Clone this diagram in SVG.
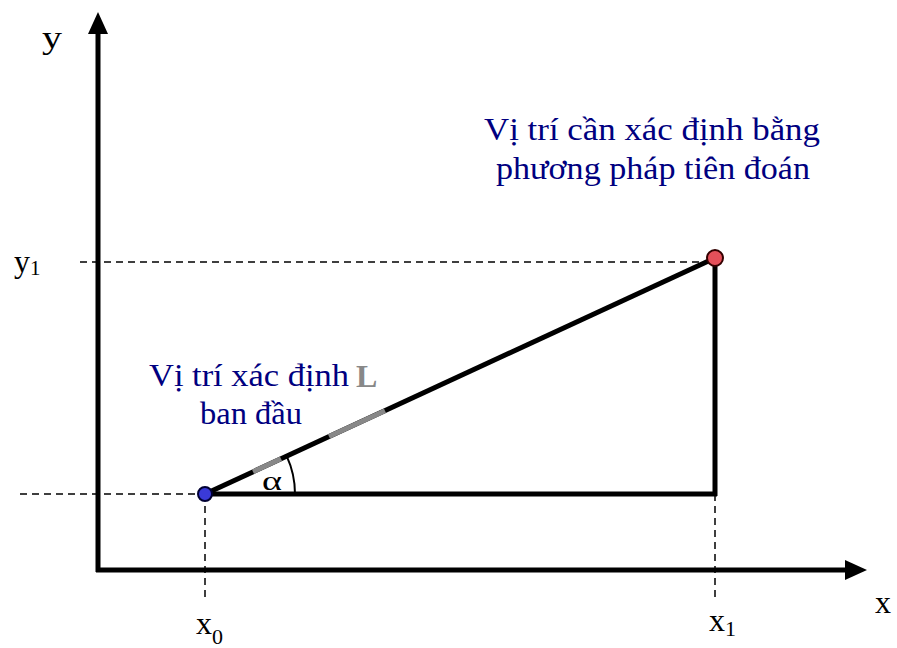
<svg xmlns="http://www.w3.org/2000/svg" width="897" height="648" viewBox="0 0 897 648">
<style>
.ax{stroke:#000;stroke-width:5;fill:none}
.dash{stroke:#000;stroke-width:1.5;stroke-dasharray:7 5;fill:none}
.thick{stroke:#000;stroke-width:5;fill:none;stroke-linecap:butt}
.gray{stroke:#888;stroke-width:5;fill:none}
.lbl{font-family:"Liberation Serif",serif;fill:#000}
.blue{font-family:"Liberation Serif",serif;fill:#000080;font-size:31px}
</style>
<rect width="897" height="648" fill="#fff"/>
<g id="connectors">
<line class="dash" x1="20" y1="494" x2="205" y2="494"/>
<line class="dash" x1="80" y1="262" x2="712" y2="262"/>
<line class="dash" x1="205" y1="494" x2="205" y2="602"/>
<line class="dash" x1="715" y1="494" x2="715" y2="600"/>
<line class="thick" x1="205" y1="494" x2="717" y2="494"/>
<line class="thick" x1="715" y1="258" x2="715" y2="496"/>
<line class="thick" x1="205" y1="494" x2="715" y2="258"/>
<line class="gray" x1="253" y1="471.8" x2="281" y2="458.8"/>
<line class="gray" x1="329" y1="436.6" x2="385" y2="410.7"/>
<path d="M295 494 A90 90 0 0 0 286.7 456.2" stroke="#000" stroke-width="2" fill="none"/>
</g>
<g id="axes">
<line class="ax" x1="98" y1="572" x2="98" y2="32"/>
<polygon points="98,12 88,34 108,34" fill="#000"/>
<line class="ax" x1="96" y1="570" x2="845" y2="570"/>
<polygon points="867,570 845,560 845,580" fill="#000"/>
</g>
<g id="p0">
<circle cx="205" cy="494" r="7" fill="#3a3ad8" stroke="#000033" stroke-width="2"/>
</g>
<g id="p1">
<circle cx="715" cy="258" r="8" fill="#e5505a" stroke="#330000" stroke-width="2"/>
</g>
<g id="labels">
<text class="lbl" x="42" y="48" font-size="32" textLength="20" lengthAdjust="spacingAndGlyphs">y</text>
<text class="lbl" x="14" y="272" font-size="32">y<tspan font-size="21" dy="3">1</tspan></text>
<text class="lbl" x="875" y="613" font-size="32">x</text>
<text class="lbl" x="196" y="634" font-size="32">x<tspan font-size="22" dy="10">0</tspan></text>
<text class="lbl" x="709" y="631" font-size="32">x<tspan font-size="22" dy="5">1</tspan></text>
<text class="lbl" x="262" y="490" font-size="27" textLength="20" lengthAdjust="spacingAndGlyphs">α</text>
<text x="356" y="387" font-family="Liberation Serif,serif" font-weight="bold" font-size="32" fill="#888">L</text>
</g>
<g id="note1">
<text class="blue" x="484" y="140" textLength="336" lengthAdjust="spacingAndGlyphs">Vị trí cần xác định bằng</text>
<text class="blue" x="496" y="179" textLength="314" lengthAdjust="spacingAndGlyphs">phương pháp tiên đoán</text>
</g>
<g id="note2">
<text class="blue" x="149" y="386" textLength="200" lengthAdjust="spacingAndGlyphs">Vị trí xác định</text>
<text class="blue" x="200" y="424" textLength="102" lengthAdjust="spacingAndGlyphs">ban đầu</text>
</g>
</svg>
